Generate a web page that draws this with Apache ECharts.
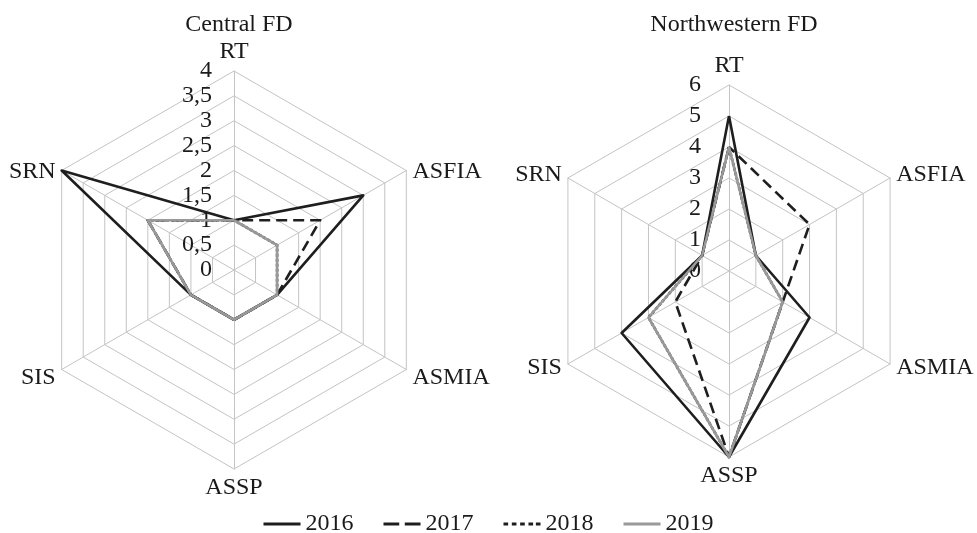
<!DOCTYPE html>
<html>
<head>
<meta charset="utf-8">
<script src="https://cdn.jsdelivr.net/npm/echarts@6/dist/echarts.min.js"></script>
<style>
  html, body {margin: 0; padding: 0; background: #fff;}
  #chart {width: 977px; height: 533px;}
</style>
</head>
<body>
<div id="chart"></div>
<script>
// indicator order as ECharts lays them out (counterclockwise from the top)
var indicators = ["RT", "SRN", "SIS", "ASSP", "ASMIA", "ASFIA"];
var years = ["2016", "2017", "2018", "2019"];

var central2016 = [1, 4, 1, 1, 1, 3];
var central2017 = [1, 2, 1, 1, 1, 2];
var central2018 = [1, 2, 1, 1, 1, 1];
var central2019 = [1, 2, 1, 1, 1, 1];

var nw2016 = [5, 1, 4, 6, 3, 1];
var nw2017 = [4, 1, 2, 6, 2, 3];
var nw2018 = [4, 1, 3, 6, 2, 1];
var nw2019 = [4, 1, 3, 6, 2, 1];

var centralTicks = [0, 0.5, 1, 1.5, 2, 2.5, 3, 3.5, 4];
var nwTicks = [0, 1, 2, 3, 4, 5, 6];

var font = "'Liberation Serif', 'Times New Roman', serif";
var gridColor = "#c4c4c4";
var textColor = "#1a1a1a";

var styles = {
    "2016": {color: "#1e1e1e", type: "solid"},
    "2017": {color: "#1e1e1e", type: [11, 6]},
    "2018": {color: "#1e1e1e", type: [3, 2]},
    "2019": {color: "#999999", type: "solid"}
};
var legendIcons = {
    "2016": "path://M0,0h40v3h-40z",
    "2017": "path://M0,0h17v3h-17zM23,0h17v3h-17z",
    "2018": "path://M0,0h5v3h-5zM9,0h5v3h-5zM18,0h5v3h-5zM27,0h5v3h-5zM35,0h5v3h-5z",
    "2019": "path://M0,0h40v3h-40z"
};

function makeRadar(center, radius, ticks, sideShift) {
    var max = ticks[ticks.length - 1];
    return {
        center: center,
        radius: radius,
        shape: "polygon",
        splitNumber: ticks.length - 1,
        startAngle: 90,
        indicator: indicators.map(function (n) { return {name: n, min: 0, max: max}; }),
        axisName: {
            color: textColor, fontFamily: font, fontSize: 24,
            // side names sit a bit lower in the original
            formatter: function (name) {
                return (name === "RT" || name === "ASSP") ? name : "{s|" + name + "}";
            },
            rich: {
                s: {color: textColor, fontFamily: font, fontSize: 24, padding: [sideShift, 0, 0, 0]}
            }
        },
        nameGap: 7,
        axisLine: {lineStyle: {color: gridColor, width: 1}},
        splitLine: {lineStyle: {color: gridColor, width: 1}},
        splitArea: {show: false},
        axisTick: {show: false},
        axisLabel: {show: false}
    };
}

function makeSeries(radarIndex, name, values) {
    var st = styles[name];
    return {
        type: "radar",
        name: name,
        radarIndex: radarIndex,
        symbol: "none",
        silent: true,
        color: st.color,
        lineStyle: {color: st.color, width: 2.6, type: st.type},
        data: [{value: values, name: name}]
    };
}

var centralData = [central2016, central2017, central2018, central2019];
var nwData = [nw2016, nw2017, nw2018, nw2019];
var series = [];
years.forEach(function (y, i) {
    series.push(makeSeries(0, y, centralData[i]));
    series.push(makeSeries(1, y, nwData[i]));
});

// tick labels along the RT axis come from a polar radius axis laid over each radar
function tickAxis(polarIndex, ticks, margin) {
    return {
        polarIndex: polarIndex,
        min: ticks[0],
        max: ticks[ticks.length - 1],
        interval: ticks[1] - ticks[0],
        axisLine: {show: false},
        axisTick: {show: false},
        splitLine: {show: false},
        axisLabel: {
            color: textColor, fontFamily: font, fontSize: 24, margin: margin,
            formatter: function (v) { return String(v).replace(".", ","); }
        }
    };
}

var chart = echarts.init(document.getElementById("chart"));
chart.setOption({
    animation: false,
    backgroundColor: "#ffffff",
    title: [
        {text: "Central FD", left: 234, top: 8, textAlign: "center",
         textStyle: {fontFamily: font, fontSize: 24, fontWeight: "normal", color: textColor}},
        {text: "Northwestern FD", left: 729, top: 8, textAlign: "center",
         textStyle: {fontFamily: font, fontSize: 24, fontWeight: "normal", color: textColor}}
    ],
    legend: {
        top: 507,
        left: "center",
        itemWidth: 37,
        itemHeight: 3,
        itemGap: 30,
        selectedMode: false,
        textStyle: {fontFamily: font, fontSize: 24, color: textColor},
        data: years.map(function (y) { return {name: y, icon: legendIcons[y]}; })
    },
    radar: [
        makeRadar([234, 270], 199, centralTicks, 9),
        makeRadar([729, 271], 186, nwTicks, 0)
    ],
    polar: [
        {center: [234, 270], radius: 199},
        {center: [729, 271], radius: 186}
    ],
    angleAxis: [
        {polarIndex: 0, show: false, startAngle: 90},
        {polarIndex: 1, show: false, startAngle: 90}
    ],
    radiusAxis: [tickAxis(0, centralTicks, 22), tickAxis(1, nwTicks, 28)],
    series: series
});
</script>
</body>
</html>
